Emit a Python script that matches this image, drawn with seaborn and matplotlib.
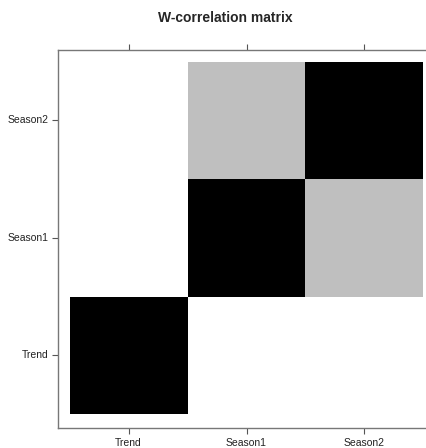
import numpy as np
import pandas as pd
import seaborn as sns
import matplotlib.pyplot as plt
from matplotlib.colors import LinearSegmentedColormap

# W-correlation between the reconstructed components
components = ['Trend', 'Season1', 'Season2']
trend_row = [1.0, 0.0, 0.0]
season1_row = [0.0, 1.0, 0.25]
season2_row = [0.0, 0.25, 1.0]

wcor = pd.DataFrame([trend_row, season1_row, season2_row],
                    index=components, columns=components)

sns.set_style('white')
plt.rcParams['font.family'] = ['Liberation Sans', 'DejaVu Sans']
plt.rcParams['font.sans-serif'] = ['Liberation Sans', 'DejaVu Sans']

fig = plt.figure(figsize=(4.26, 4.48), dpi=100)
ax = fig.add_axes([58 / 426, 20 / 448, 377 / 426, 378 / 448])

grey = LinearSegmentedColormap.from_list('wgrey', ['white', 'black'])
sns.heatmap(wcor, ax=ax, cmap=grey, vmin=0, vmax=1, cbar=False,
            square=False, linewidths=0)

# trend at the bottom, small margin around the cells
ax.set_xlim(-0.1, 3.1)
ax.set_ylim(-0.12, 3.1)

ax.set_xticks(np.arange(len(components)) + 0.5)
ax.set_yticks(np.arange(len(components)) + 0.5)
ax.set_xticklabels(components, fontsize=7.5, color='#222222', rotation=0,
                   fontfamily='Liberation Sans')
ax.set_yticklabels(components, fontsize=7.5, color='#222222', rotation=0,
                   fontfamily='Liberation Sans')
ax.set_xlabel('')
ax.set_ylabel('')

ax.tick_params(axis='both', which='both', direction='out', length=4,
               width=0.8, color='#555555', pad=3,
               bottom=True, left=True, top=True, labeltop=False)

for side in ['left', 'bottom', 'top']:
    ax.spines[side].set_visible(True)
    ax.spines[side].set_color('#777777')
    ax.spines[side].set_linewidth(1.0)
ax.spines['right'].set_visible(False)

fig.text(225 / 426, 1 - 18 / 448, 'W-correlation matrix', ha='center',
         va='center', fontsize=10, fontweight='bold',
         fontfamily='Liberation Sans')

fig.savefig('out.png', dpi=100)
